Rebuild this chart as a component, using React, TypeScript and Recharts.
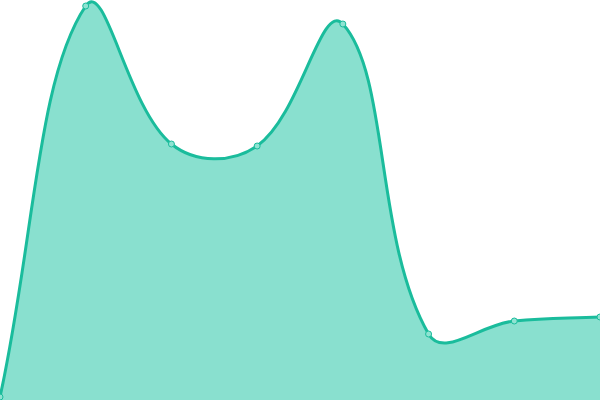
import React from "react";
import { AreaChart, Area, XAxis, YAxis } from "recharts";

const categories = ["A", "B", "C", "D", "E", "F", "G", "H"];
const values = [3, 394, 256, 254, 376, 66, 79, 83];

const data = categories.map((c, i) => ({ name: c, value: values[i] }));

// Tension spline (distance-weighted cardinal), as a d3-style curve factory
function makeSpline(tension: number) {
  return function (context: any) {
    let line = NaN;
    let pts: [number, number][] = [];
    return {
      areaStart() {
        line = 0;
      },
      areaEnd() {
        line = NaN;
      },
      lineStart() {
        pts = [];
      },
      lineEnd() {
        const n = pts.length;
        if (n > 0) {
          const [x0, y0] = pts[0];
          if (line === 1) context.lineTo(x0, y0);
          else context.moveTo(x0, y0);
          const cps = pts.map((p, i) => {
            const prev = pts[i - 1] || p;
            const next = pts[i + 1] || p;
            const d01 = Math.hypot(p[0] - prev[0], p[1] - prev[1]);
            const d12 = Math.hypot(next[0] - p[0], next[1] - p[1]);
            let s01 = d01 / (d01 + d12);
            let s12 = d12 / (d01 + d12);
            if (!isFinite(s01)) s01 = 0;
            if (!isFinite(s12)) s12 = 0;
            const fa = tension * s01;
            const fb = tension * s12;
            return {
              px: p[0] - fa * (next[0] - prev[0]),
              py: p[1] - fa * (next[1] - prev[1]),
              nx: p[0] + fb * (next[0] - prev[0]),
              ny: p[1] + fb * (next[1] - prev[1]),
            };
          });
          for (let i = 1; i < n; i++) {
            context.bezierCurveTo(
              cps[i - 1].nx,
              cps[i - 1].ny,
              cps[i].px,
              cps[i].py,
              pts[i][0],
              pts[i][1]
            );
          }
        }
        if (line === 1) context.closePath();
        line = 1 - line;
      },
      point(x: number, y: number) {
        pts.push([+x, +y]);
      },
    };
  };
}

const spline = makeSpline(0.4);

export default function App() {
  return (
    <div style={{ position: "absolute", top: 0, left: 0 }}>
      <AreaChart width={600} height={400} data={data} margin={{ top: 0, right: 0, bottom: 0, left: 0 }}>
        <XAxis dataKey="name" hide padding={{ left: 0, right: 0 }} />
        <YAxis hide domain={[0, 400]} />
        <Area
          type={spline as any}
          dataKey="value"
          stroke="#1abc9c"
          strokeWidth={3}
          fill="#89e0cf"
          fillOpacity={1}
          dot={{ r: 3, fill: "#8fe3d2", stroke: "#1abc9c", strokeWidth: 1 }}
          activeDot={false}
          isAnimationActive={false}
        />
      </AreaChart>
    </div>
  );
}
